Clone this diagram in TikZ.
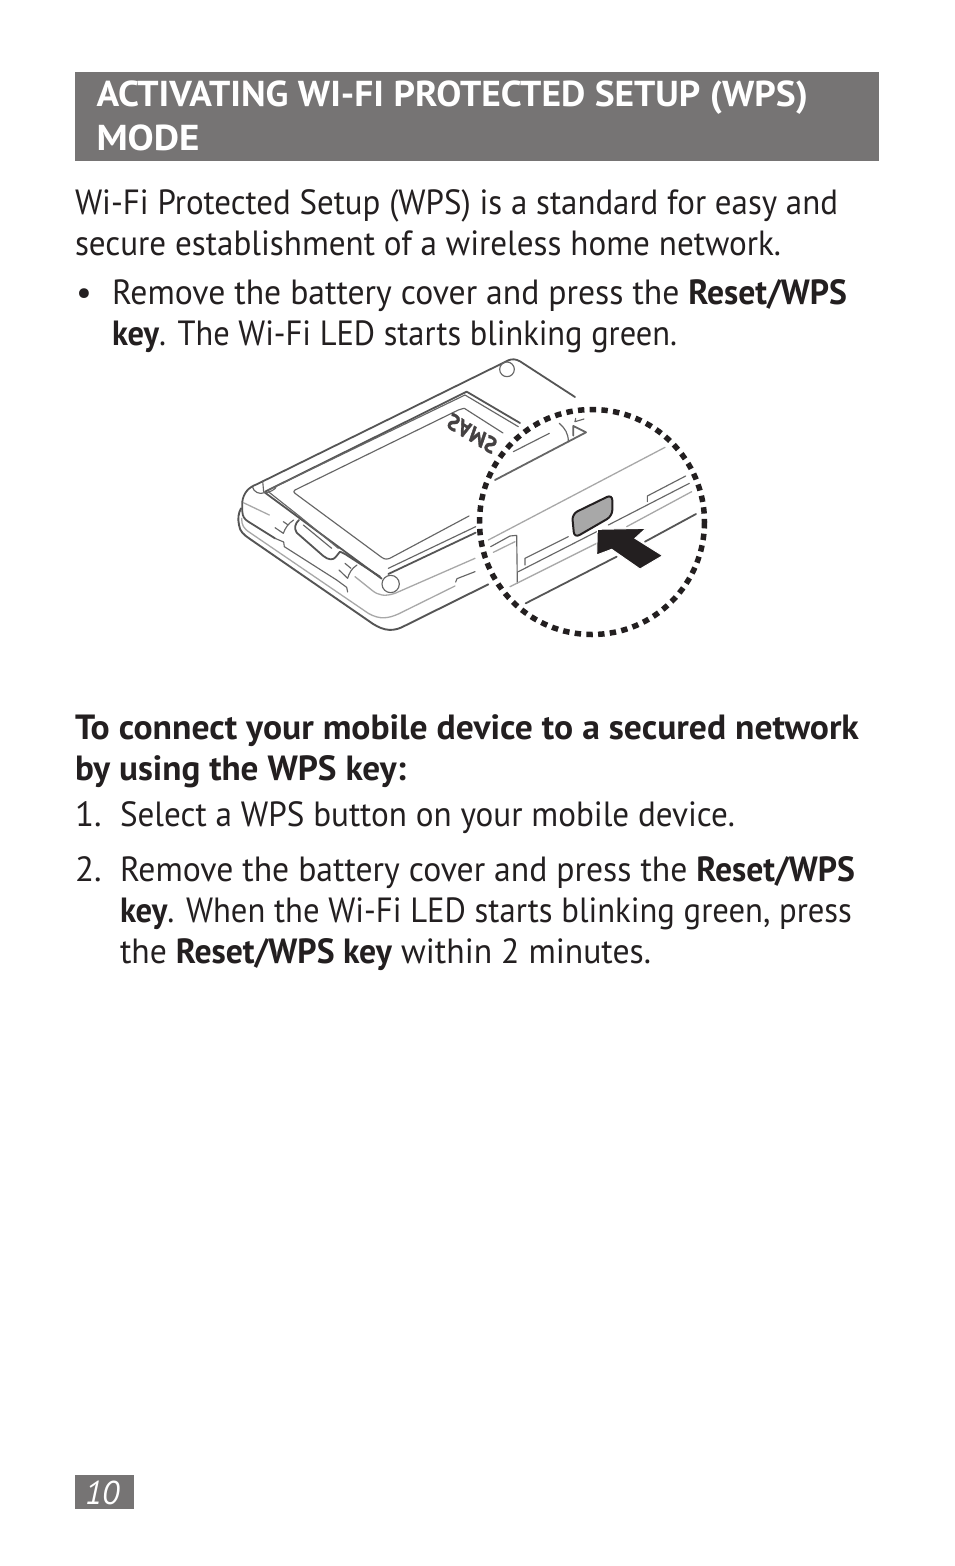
\documentclass[tikz,border=0pt]{standalone}
\usepackage{fontspec}
\usepackage{graphicx}
\setmainfont{PT Sans}
\definecolor{hdr}{HTML}{767474}
\definecolor{ink}{HTML}{231F20}
\definecolor{dk}{HTML}{555555}
\definecolor{md}{HTML}{666666}
\definecolor{lg}{HTML}{A8A8A8}
\newcommand{\fitline}[5]{\node[txt,#5] (#1) at (#2) {#3};}
\newcommand{\fw}[2]{\resizebox{#1pt}{\height}{#2}}
\tikzset{
  txt/.style={anchor=base west,inner sep=0pt,outer sep=0pt,text=ink,font=\fontsize{35}{41}\selectfont},
  hd/.style={text=white,font=\fontsize{36}{44}\selectfont\bfseries},
  thick line/.style={draw=dk,line width=1.8pt,line join=round,line cap=round},
  thin line/.style={draw=md,line width=1.15pt,line join=round,line cap=round},
  gray line/.style={draw=lg,line width=1.3pt,line join=round,line cap=round},
  z1/.style={shift={(225pt,-350pt)},x=0.33333pt,y=-0.33333pt},
  z2/.style={shift={(460pt,-390pt)},x=0.33333pt,y=-0.33333pt},
}
\begin{document}
\begin{tikzpicture}[x=1pt,y=-1pt]
\useasboundingbox (0,0) rectangle (954,1566);
\fill[white] (0,0) rectangle (954,1566);
\node[fill=hdr,minimum width=804pt,minimum height=89pt,inner sep=0pt,anchor=north west] (band) at (75,72) {};
\node[fill=hdr,minimum width=59pt,minimum height=34pt,inner sep=0pt,anchor=north west] (pageband) at (75,1475) {};

\fitline{h1}{96.5,106.5}{\fw{711.5}{ACTIVATING WI-FI PROTECTED SETUP (WPS)}}{}{hd}
\fitline{h2}{96.5,150.5}{\fw{103}{MODE}}{}{hd}
\fitline{p1}{75,214}{\fw{763}{Wi-Fi Protected Setup (WPS) is a standard for easy and}}{}{}
\fitline{p2}{75,255}{\fw{706}{secure establishment of a wireless home network.}}{}{}
\fitline{b0}{76,304}{•}{}{}
\fitline{b1}{112,304}{\fw{735}{Remove the battery cover and press the \textbf{Reset/WPS}}}{}{}
\fitline{b2}{112,345}{\fw{565}{\textbf{key}. The Wi-Fi LED starts blinking green.}}{}{}
\fitline{s1}{75,739}{\fw{784}{\textbf{To connect your mobile device to a secured network}}}{}{}
\fitline{s2}{75,780}{\fw{331}{\textbf{by using the WPS key:}}}{}{}
\fitline{n1}{75,826}{1.}{}{}
\fitline{l1}{120,826}{\fw{615}{Select a WPS button on your mobile device.}}{}{}
\fitline{n2}{75,881}{2.}{}{}
\fitline{l2}{120,881}{\fw{735}{Remove the battery cover and press the \textbf{Reset/WPS}}}{}{}
\fitline{l3}{120,922}{\fw{732}{\textbf{key}. When the Wi-Fi LED starts blinking green, press}}{}{}
\fitline{l4}{120,963}{\fw{531}{the \textbf{Reset/WPS key} within 2 minutes.}}{}{}
\node[txt,text=white,font=\fontsize{33}{36}\selectfont\itshape] (pg) at (85,1504) {10};

% device, coordinates in crop 1
\begin{scope}[z1]
\draw[thick line] (850,31) .. controls (862,26) and (872,27) .. (885,34) -- (1050,141);
\draw[thick line] (850,31) -- (95,403) .. controls (70,412) and (55,430) .. (52,455) -- (52,485) .. controls (53,500) and (58,507) .. (70,515) -- (150,565);
\draw[thin line] (846,58) circle[radius=22];
\draw[thick line,line width=1.9pt] (48,475) .. controls (40,490) and (38,505) .. (42,525) .. controls (45,545) and (55,553) .. (75,567) -- (430,812) .. controls (465,838) and (495,848) .. (530,832) -- (790,703);
\draw[gray line] (50,505) .. controls (50,525) and (55,535) .. (75,548) -- (430,790) .. controls (465,810) and (490,805) .. (520,792) -- (690,708);
\draw[gray line] (55,458) -- (133,495);
\draw[thin line] (150,565) -- (176,576) -- (178,590) -- (335,690) -- (365,712) -- (368,726);
\draw[gray line] (390,680) -- (440,720) .. controls (460,737) and (480,740) .. (510,730) -- (750,625);
\draw[gray line] (790,572) -- (840,545);
\draw[thin line] (692,696) -- (696,686) -- (750,665);
% battery recess
\draw[thick line] (120,425) -- (725,125) -- (885,219);
\draw[thin line] (130,420) -- (720,135) -- (880,230);
\draw[thin line] (834,249) -- (718,175) .. controls (715,175) and (710,177) .. (700,180) -- (210,420) .. controls (205,423) and (205,427) .. (210,430) -- (470,622) .. controls (480,630) and (490,628) .. (500,622) -- (732,498);
\draw[thin line] (490,655) -- (752,530);
\draw[thick line] (490,672) -- (752,548);
% lower edge of the recess
\draw[thick line] (120,428) -- (470,686);
\draw[thin line] (130,425) -- (225,500) -- (340,595);
\draw[thick line] (222,510) .. controls (210,520) and (207,535) .. (215,548) -- (295,618) .. controls (310,630) and (325,632) .. (333,620) -- (345,605) -- (360,612) -- (465,680);
\draw[thin line] (235,525) -- (320,595);
% corner circles
\draw[thin line,fill=white] (497,702) circle[radius=26];
\draw[thin line] (83,412) .. controls (85,425) and (105,435) .. (118,428) .. controls (135,428) and (150,418) .. (153,412);
\draw[thin line] (113,393) -- (116,426);
% clips
\draw[thin line] (150,533) -- (175,550) .. controls (180,535) and (190,520) .. (206,510);
\draw[thin line] (175,515) -- (188,524);
\draw[thin line] (342,660) -- (368,685) .. controls (372,670) and (380,655) .. (396,645);
\draw[thin line] (360,640) -- (378,655);
\end{scope}
% lettering of the battery, seen through
\node[inner sep=0pt,font=\fontsize{22}{22}\selectfont\bfseries\itshape,text=ink!85,anchor=west,transform shape,yscale=-1,rotate=31] (sams) at (448,419) {\addfontfeatures{FakeBold=1.5,LetterSpace=3}SAMS};

% magnifier
\node[circle,fill=white,minimum size=224pt,inner sep=0pt] (lens) at (592,522) {};
\begin{scope}[z2]
\draw[gray line] (85,450) -- (615,172);
\draw[thick line,draw=md] (105,270) -- (378,127) -- (340,108) -- (340,137);
\draw[thin line] (345,95) -- (347,85);
\draw[thin line] (345,95) -- (372,87);
\draw[thin line] (298,100) .. controls (315,115) and (325,130) .. (325,155);
\draw[thin line] (160,185) -- (268,130);
\draw[thin line] (92,470) -- (150,438) -- (170,436) -- (172,580);
\draw[gray line] (100,487) -- (165,455);
\draw[thin line] (195,525) -- (195,505) -- (325,440);
\draw[thin line] (175,545) -- (410,425);
\draw[thin line] (445,405) -- (688,280);
\draw[thin line] (562,335) -- (562,318) -- (677,258);
\draw[gray line] (150,590) -- (410,460);
\draw[gray line] (500,410) -- (695,305);
\draw[thick line] (197,640) -- (470,500);
\draw[thick line] (555,455) -- (708,372);
\draw[fill=lg,draw=ink,line width=2pt,rounded corners=6pt] (336,372) -- (457,313) -- (457,378) -- (343,444) -- cycle;
\draw[fill=ink,draw=white,line width=1pt,line join=miter] (412,418) -- (558,415) -- (525,445) -- (608,497) -- (540,537) -- (455,478) -- (410,495) -- cycle;
\end{scope}
\draw[draw=ink,line width=5.5pt,dash pattern=on 6.4pt off 5.33pt] (lens.center) circle[radius=112.5];
\end{tikzpicture}
\end{document}
